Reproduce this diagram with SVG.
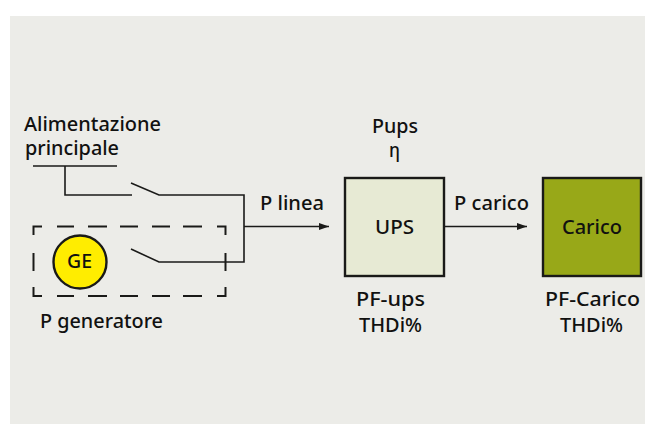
<svg xmlns="http://www.w3.org/2000/svg" width="645" height="424" viewBox="0 0 645 424">
<style>
text{font-family:"Noto Sans",Roboto,"Liberation Sans",sans-serif;font-size:19.5px;font-weight:500;fill:#111110}
.w{fill:none;stroke:#1a1a18;stroke-width:1.6}
.d{fill:none;stroke:#1a1a18;stroke-width:2}
.b{stroke:#1a1a18;stroke-width:2.4}
</style>
<defs><marker id="a" markerUnits="userSpaceOnUse" markerWidth="10" markerHeight="8" refX="10" refY="4" orient="auto"><path d="M0 0.500L10 4L0 7.500Z" fill="#1a1a18"/></marker></defs>
<rect x="10" y="16" width="635" height="408" fill="#ecece8"/>
<g id="connectors">
<path class="w" d="M33 166H117M65 166V195H132M131 183L159 195H244V262H159L131 249"/>
<path class="w" d="M244 226.500H329" marker-end="url(#a)"/>
<path class="w" d="M445 226.500H527" marker-end="url(#a)"/>
</g>
<g id="generator-box"><path class="d" d="M33.500 235V226.500H42M57 226.500H74M88 226.500H107M120 226.500H138M152 226.500H170M183 226.500H202M217 226.500H225.500V235M33.500 253V271M225.500 253V271M33.500 287V296H42M57 296H74M88 296H107M120 296H138M152 296H170M183 296H202M217 296H225.500V287"/></g>
<g id="ge"><circle class="b" cx="80" cy="262" r="26.500" fill="#ffed00"/><text x="67" y="268" textLength="25" lengthAdjust="spacingAndGlyphs">GE</text></g>
<g id="ups"><rect class="b" x="345" y="178" width="99" height="98" fill="#e7ead4"/><text x="375" y="234" textLength="39" lengthAdjust="spacingAndGlyphs">UPS</text></g>
<g id="carico"><rect class="b" x="543" y="178" width="98" height="98" fill="#98a818"/><text x="562" y="234" textLength="60" lengthAdjust="spacingAndGlyphs">Carico</text></g>
<g id="labels">
<text x="24" y="130.500" textLength="137" lengthAdjust="spacingAndGlyphs">Alimentazione</text>
<text x="25" y="155" textLength="94" lengthAdjust="spacingAndGlyphs">principale</text>
<text x="260" y="210" textLength="64" lengthAdjust="spacingAndGlyphs">P linea</text>
<text x="40" y="328" textLength="123" lengthAdjust="spacingAndGlyphs">P generatore</text>
<text x="372" y="133" textLength="46" lengthAdjust="spacingAndGlyphs">Pups</text>
<text x="389" y="157" textLength="11" lengthAdjust="spacingAndGlyphs">η</text>
<text x="454" y="210" textLength="75" lengthAdjust="spacingAndGlyphs">P carico</text>
<text x="356" y="306" textLength="69" lengthAdjust="spacingAndGlyphs">PF-ups</text>
<text x="359" y="332" textLength="63" lengthAdjust="spacingAndGlyphs">THDi%</text>
<text x="545" y="306" textLength="95" lengthAdjust="spacingAndGlyphs">PF-Carico</text>
<text x="560" y="332" textLength="63" lengthAdjust="spacingAndGlyphs">THDi%</text>
</g>
</svg>
